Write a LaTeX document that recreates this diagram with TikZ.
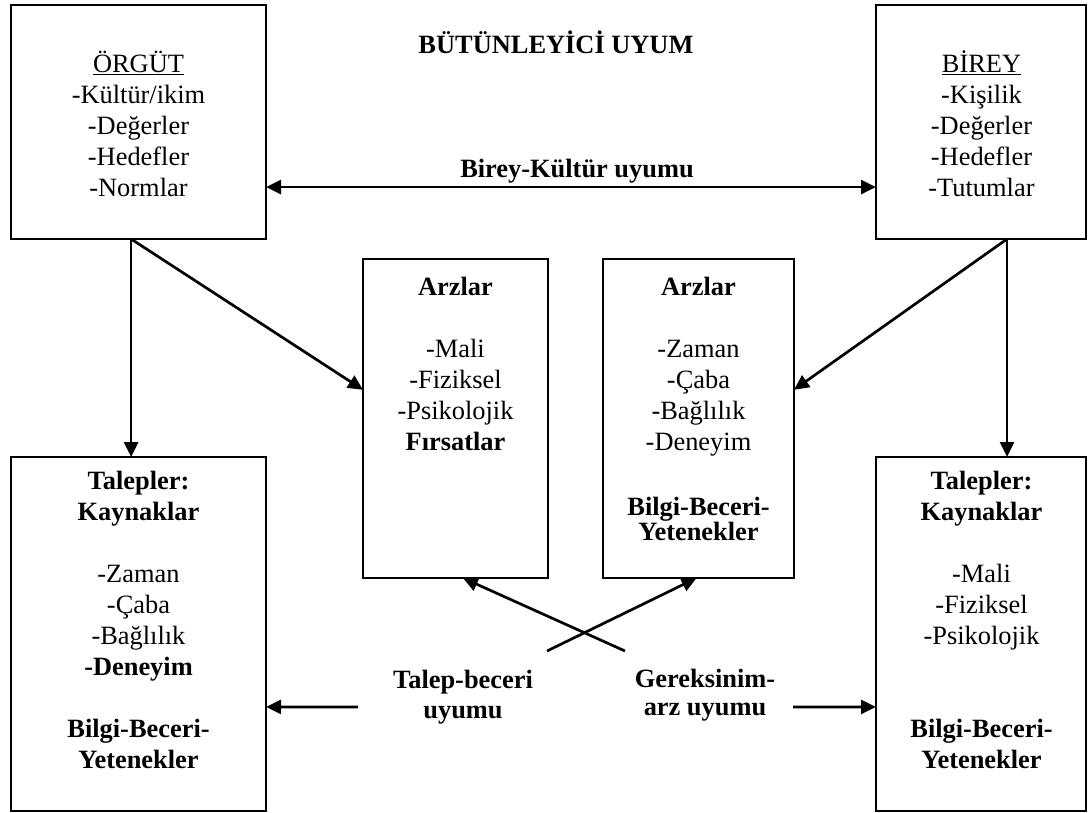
\documentclass[tikz,border=0pt]{standalone}
\usepackage{fontspec}
\setmainfont{Liberation Serif}
\usetikzlibrary{arrows.meta,calc}
\begin{document}
\begin{tikzpicture}[x=1pt,y=-1pt,
  >={Triangle[length=15pt,width=14pt]},
  box/.style={draw, line width=2.2pt, inner sep=0pt, outer sep=0pt},
  txt/.style={font=\fontsize{26.4}{31}\selectfont, align=center, inner sep=0pt},
  link/.style={line width=2.7pt, ->},
  dlink/.style={line width=2.7pt, <->},
]
\useasboundingbox (0,0) rectangle (1088,812);

% boxes
\node[box, minimum width=255pt, minimum height=234pt] (org)  at (138.5,122)   {};
\node[box, minimum width=210pt, minimum height=234pt] (bir)  at (981,122)     {};
\node[box, minimum width=185pt, minimum height=319pt] (arzL) at (455.5,418.5) {};
\node[box, minimum width=191pt, minimum height=319pt] (arzR) at (698.5,418.5) {};
\node[box, minimum width=255pt, minimum height=354pt] (talL) at (138.5,634)   {};
\node[box, minimum width=210pt, minimum height=354pt] (talR) at (981,634)     {};

% box contents
\node[txt, anchor=north] (orgT) at (138.5,50.8)
  {\strut\underline{ÖRGÜT}\\-Kültür/ikim\\-Değerler\\-Hedefler\\-Normlar};
\node[txt, anchor=north] (birT) at (981.5,50.8)
  {\strut\underline{BİREY}\\-Kişilik\\-Değerler\\-Hedefler\\-Tutumlar};
\node[txt, anchor=north] (arzLT) at (455.5,273.3)
  {\strut\textbf{Arzlar}\\[31pt]-Mali\\-Fiziksel\\-Psikolojik\\\textbf{Fırsatlar}};
\node[txt, anchor=north] (arzRT) at (698.5,273.3)
  {\strut\textbf{Arzlar}\\[31pt]-Zaman\\-Çaba\\-Bağlılık\\-Deneyim\\[34pt]\textbf{Bilgi-Beceri-}\\[-6pt]\textbf{Yetenekler}};
\node[txt, anchor=north] (talLT) at (138.5,467.3)
  {\strut\textbf{Talepler:}\\\textbf{Kaynaklar}\\[31pt]-Zaman\\-Çaba\\-Bağlılık\\\textbf{-Deneyim}\\[31pt]\textbf{Bilgi-Beceri-}\\\textbf{Yetenekler}};
\node[txt, anchor=north] (talRT) at (981.5,467.3)
  {\strut\textbf{Talepler:}\\\textbf{Kaynaklar}\\[31pt]-Mali\\-Fiziksel\\-Psikolojik\\[62pt]\textbf{Bilgi-Beceri-}\\\textbf{Yetenekler}};

% free labels
\node[txt, anchor=base] (title) at (556,53) {\textbf{BÜTÜNLEYİCİ UYUM}};
\node[txt, anchor=base] (bk) at (577,177) {\textbf{Birey-Kültür uyumu}};
\node[txt, anchor=north] (tb) at (463,666.3) {\strut\textbf{Talep-beceri}\\[-1pt]\textbf{uyumu}};
\node[txt, anchor=north] (ga) at (705,665.3) {\strut\textbf{Gereksinim-}\\[-3pt]\textbf{arz uyumu}};

% free ends of connectors
\coordinate (c1) at (625,651);
\coordinate (c2) at (547,651);
\coordinate (lt) at (358,707);
\coordinate (rt) at (793,707);

% connectors
\draw[dlink] ($(org.north east)!0.778!(org.south east)$) -- ($(bir.north west)!0.778!(bir.south west)$);
\draw[link] ($(org.south west)!0.471!(org.south east)$) -- ($(talL.north west)!0.471!(talL.north east)$);
\draw[link] ($(org.south west)!0.471!(org.south east)$) -- ($(arzL.north west)!0.41!(arzL.south west)$);
\draw[link] ($(bir.south west)!0.624!(bir.south east)$) -- ($(arzR.north east)!0.41!(arzR.south east)$);
\draw[link] ($(bir.south west)!0.624!(bir.south east)$) -- ($(talR.north west)!0.624!(talR.north east)$);
\draw[link] (c1) -- ($(arzL.south west)!0.54!(arzL.south east)$);
\draw[link] (c2) -- ($(arzR.south west)!0.49!(arzR.south east)$);
\draw[link] (lt) -- ($(talL.north east)!0.706!(talL.south east)$);
\draw[link] (rt) -- ($(talR.north west)!0.706!(talR.south west)$);
\end{tikzpicture}
\end{document}
